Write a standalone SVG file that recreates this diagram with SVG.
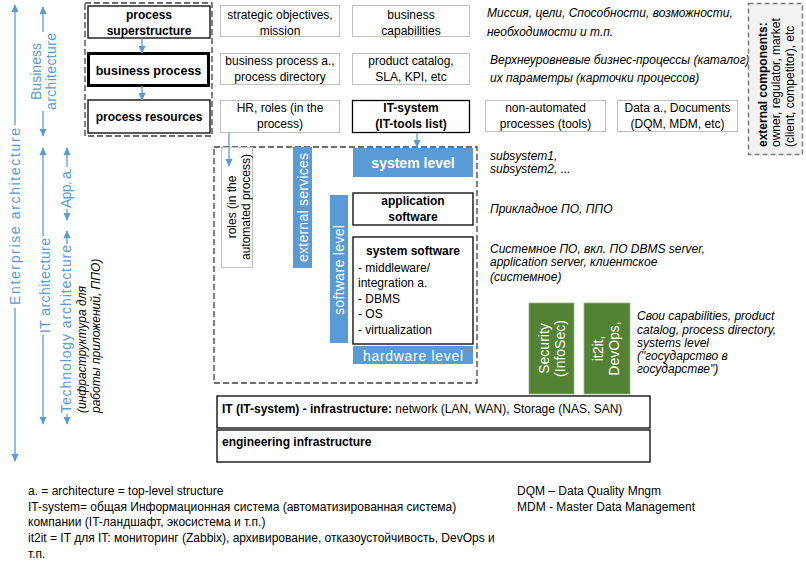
<svg xmlns="http://www.w3.org/2000/svg" width="806" height="569" viewBox="0 0 806 569">
<style>
text { font-family: "Liberation Sans", Arial, sans-serif; font-size: 12px; fill: #000; }
.c { text-anchor: middle; }
.b { font-weight: bold; }
.i { font-style: italic; }
.w { fill: #fff; }
.lbl { fill: #5b9bd5; font-size: 14px; text-anchor: middle; }
.lt { fill: #fff; stroke: #c0c0c0; stroke-width: 1; }
.dk { fill: #fff; stroke: #000; stroke-width: 1.3; }
.blue { fill: #5b9bd5; }
.green { fill: #548235; stroke: #9bb58a; stroke-width: 0.8; }
.ar { stroke: #5b9bd5; stroke-width: 1.3; fill: none; marker-end: url(#ah); }
.ln { stroke: #5b9bd5; stroke-width: 1.3; fill: none; }
.dash { fill: none; stroke: #404040; stroke-width: 1.3; stroke-dasharray: 6 3; }
.ft { font-size: 12px; }
.vw { fill: #fff; font-size: 14px; text-anchor: middle; }
</style>
<defs>
<marker id="ah" viewBox="0 0 10 10" refX="9" refY="5" markerWidth="8" markerHeight="8" markerUnits="userSpaceOnUse" orient="auto">
<path d="M0,0.5 L10,5 L0,9.5 z" fill="#5b9bd5"/>
</marker>
</defs>

<!-- left scale arrows and labels -->
<g id="scale">
<line class="ar" x1="15" y1="125" x2="15" y2="5"/>
<line class="ar" x1="15" y1="308" x2="15" y2="461"/>
<text class="lbl" transform="translate(19.5,216.5) rotate(-90)" textLength="177" lengthAdjust="spacing">Enterprise architecture</text>

<line class="ar" x1="43" y1="32" x2="43" y2="7"/>
<line class="ar" x1="43" y1="111" x2="43" y2="136"/>
<text class="lbl" transform="translate(41,71.5) rotate(-90)"><tspan x="0" y="0" textLength="57" lengthAdjust="spacing">Business</tspan><tspan x="0" y="15" textLength="77" lengthAdjust="spacing">architecture</tspan></text>

<line class="ar" x1="43" y1="236" x2="43" y2="148"/>
<line class="ar" x1="43" y1="335" x2="43" y2="424"/>
<text class="lbl" transform="translate(50,285.5) rotate(-90)" textLength="95" lengthAdjust="spacing">IT architecture</text>

<line class="ar" x1="67" y1="167" x2="67" y2="148"/>
<line class="ar" x1="67" y1="209" x2="67" y2="220"/>
<text class="lbl" transform="translate(71,188) rotate(-90)" textLength="40" lengthAdjust="spacing">App. a.</text>

<line class="ar" x1="67" y1="244" x2="67" y2="231"/>
<line class="ar" x1="67" y1="414" x2="67" y2="424"/>
<text class="lbl" transform="translate(71,329) rotate(-90)" textLength="168" lengthAdjust="spacing">Technology architecture</text>

<text class="i" transform="translate(85.5,413) rotate(-90)"><tspan x="0" y="0">(инфраструктура для</tspan><tspan x="0" y="14">работы приложений, ППО)</tspan></text>
</g>

<!-- business column -->
<rect class="dash" x="85" y="3" width="127" height="133"/>
<g id="n-superstructure">
<rect class="dk" x="88" y="6" width="122" height="32"/>
<text class="c b" x="149" y="18.5">process</text>
<text class="c b" x="149" y="34.5">superstructure</text>
</g>
<g id="n-business-process">
<rect x="88.5" y="53.5" width="120" height="32" fill="#fff" stroke="#000" stroke-width="3"/>
<text class="c b" x="148.5" y="74.5" style="font-size:12.5px">business process</text>
</g>
<g id="n-process-resources">
<rect class="dk" x="88" y="100" width="122" height="33"/>
<text class="c b" x="149" y="121">process resources</text>
</g>

<!-- column 2/3 -->
<g id="n-strategic">
<rect class="lt" x="220.5" y="5.5" width="119" height="31"/>
<text class="c" x="280" y="18.5">strategic objectives,</text>
<text class="c" x="280" y="34.5">mission</text>
</g>
<g id="n-capabilities">
<rect class="lt" x="352.5" y="5.5" width="117" height="31"/>
<text class="c" x="411" y="18.5">business</text>
<text class="c" x="411" y="34.5">capabilities</text>
</g>
<g id="n-bp-arch">
<rect class="lt" x="220.5" y="53.5" width="119" height="31"/>
<text class="c" x="280" y="65">business process a.,</text>
<text class="c" x="280" y="81">process directory</text>
</g>
<g id="n-catalog">
<rect class="lt" x="352.5" y="53.5" width="117" height="31"/>
<text class="c" x="411" y="65">product catalog,</text>
<text class="c" x="411" y="81">SLA, KPI, etc</text>
</g>
<g id="n-hr">
<rect class="lt" x="220.5" y="100.5" width="119" height="32"/>
<text class="c" x="280" y="112">HR, roles (in the</text>
<text class="c" x="280" y="128">process)</text>
</g>
<g id="n-it-system">
<rect class="dk" x="352.5" y="100.5" width="117" height="32"/>
<text class="c b" x="411" y="112">IT-system</text>
<text class="c b" x="411" y="128">(IT-tools list)</text>
</g>
<g id="n-non-automated">
<rect class="lt" x="485.5" y="100.5" width="120" height="31"/>
<text class="c" x="545.5" y="112">non-automated</text>
<text class="c" x="545.5" y="128">processes (tools)</text>
</g>
<g id="n-data">
<rect class="lt" x="617.5" y="100.5" width="120" height="31"/>
<text class="c" x="677.5" y="112">Data a., Documents</text>
<text class="c" x="677.5" y="128">(DQM, MDM, etc)</text>
</g>

<!-- notes top right -->
<g id="notes-top">
<text class="i" x="487" y="17">Миссия, цели, Способности, возможности,</text>
<text class="i" x="487" y="36">необходимости и т.п.</text>
<text class="i" x="490" y="64">Верхнеуровневые бизнес-процессы (каталог)</text>
<text class="i" x="490" y="82">их параметры (карточки процессов)</text>
</g>

<g id="n-external-components">
<rect x="748.5" y="3.5" width="54" height="151" fill="#f2f2f2" stroke="#7f7f7f" stroke-width="1.5" stroke-dasharray="5 3"/>
<text transform="translate(766.5,147) rotate(-90)"><tspan x="0" y="0" class="b">external components:</tspan><tspan x="0" y="13.5">owner, regulator, market</tspan><tspan x="0" y="27">(client, competitor), etc</tspan></text>
</g>

<!-- IT area -->
<rect class="dash" x="214" y="147" width="263" height="236"/>
<g id="n-roles">
<rect class="lt" x="221.5" y="147.5" width="31" height="120"/>
<text class="c" transform="translate(236,207) rotate(-90)"><tspan x="0" y="0">roles (in the</tspan><tspan x="0" y="14">automated process)</tspan></text>
</g>
<g id="n-external-services">
<rect class="blue" x="293" y="147" width="19" height="121"/>
<text class="vw" transform="translate(308,207.5) rotate(-90)" textLength="109" lengthAdjust="spacing">external services</text>
</g>
<g id="n-system-level">
<rect class="blue" x="353" y="148" width="120" height="29"/>
<text class="c b w" x="413" y="167.5" style="font-size:14px">system level</text>
</g>
<g id="n-software-level">
<rect class="blue" x="330" y="195" width="18" height="148"/>
<text class="vw" transform="translate(344,270) rotate(-90)" textLength="90" lengthAdjust="spacing">software level</text>
</g>
<g id="n-application-software">
<rect class="dk" x="353" y="193" width="120" height="32"/>
<text class="c b" x="413" y="205">application</text>
<text class="c b" x="413" y="221">software</text>
</g>
<g id="n-system-software">
<rect class="dk" x="353" y="237" width="120" height="107"/>
<text class="c b" x="413" y="255">system software</text>
<text x="358" y="271.5">- middleware/</text>
<text x="358" y="287">integration a.</text>
<text x="358" y="302.5">- DBMS</text>
<text x="358" y="318">- OS</text>
<text x="358" y="334">- virtualization</text>
</g>
<g id="n-hardware-level">
<rect class="blue" x="353" y="346" width="120" height="18"/>
<text class="vw" x="413" y="360.5" textLength="100" lengthAdjust="spacing">hardware  level</text>
</g>

<g id="notes-mid">
<text class="i" x="490" y="160">subsystem1,</text>
<text class="i" x="490" y="173">subsystem2, ...</text>
<text class="i" x="490" y="213">Прикладное ПО, ППО</text>
<text class="i" x="490" y="253">Системное ПО, вкл. ПО DBMS server,</text>
<text class="i" x="490" y="266">application server, клиентское</text>
<text class="i" x="490" y="281">(системное)</text>
</g>

<g id="n-security">
<rect class="green" x="529" y="303" width="45" height="91"/>
<text class="vw" transform="translate(549,348.5) rotate(-90)"><tspan x="0" y="0">Security</tspan><tspan x="0" y="16">(InfoSec)</tspan></text>
</g>
<g id="n-it2it">
<rect class="green" x="584" y="303" width="46" height="91"/>
<text class="vw" transform="translate(603,348.5) rotate(-90)"><tspan x="0" y="0">it2it,</tspan><tspan x="0" y="16">DevOps,</tspan></text>
</g>
<g id="notes-green">
<text class="i" x="637" y="320">Свои capabilities, product</text>
<text class="i" x="637" y="334">catalog, process directory,</text>
<text class="i" x="637" y="347">systems level</text>
<text class="i" x="637" y="360">("государство в</text>
<text class="i" x="637" y="373">государстве")</text>
</g>

<g id="n-it-infrastructure">
<rect class="dk" x="217" y="396" width="433" height="32"/>
<text x="222" y="413"><tspan class="b">IT (IT-system) - infrastructure:</tspan> network (LAN, WAN), Storage (NAS, SAN)</text>
</g>
<g id="n-engineering">
<rect class="dk" x="217" y="430" width="433" height="32"/>
<text class="b" x="222" y="446">engineering infrastructure</text>
</g>

<!-- connectors -->
<g id="connectors">
<line class="ar" x1="142" y1="38" x2="142" y2="53"/>
<line class="ar" x1="142" y1="86" x2="142" y2="100"/>
<line class="ar" x1="229" y1="133" x2="229" y2="166"/>
<line class="ar" x1="417" y1="133" x2="417" y2="147"/>
</g>

<!-- footer -->
<g id="footer">
<text class="ft" x="28" y="495">a. = architecture = top-level structure</text>
<text class="ft" x="28" y="511">IT-system= общая Информационная система (автоматизированная система)</text>
<text class="ft" x="28" y="526">компании (IT-ландшафт, экосистема и т.п.)</text>
<text class="ft" x="28" y="542">it2it = IT для IT: мониторинг (Zabbix), архивирование, отказоустойчивость, DevOps и</text>
<text class="ft" x="28" y="558">т.п.</text>
<text class="ft" x="517" y="495">DQM – Data Quality Mngm</text>
<text class="ft" x="517" y="511">MDM - Master Data Management</text>
</g>
</svg>
